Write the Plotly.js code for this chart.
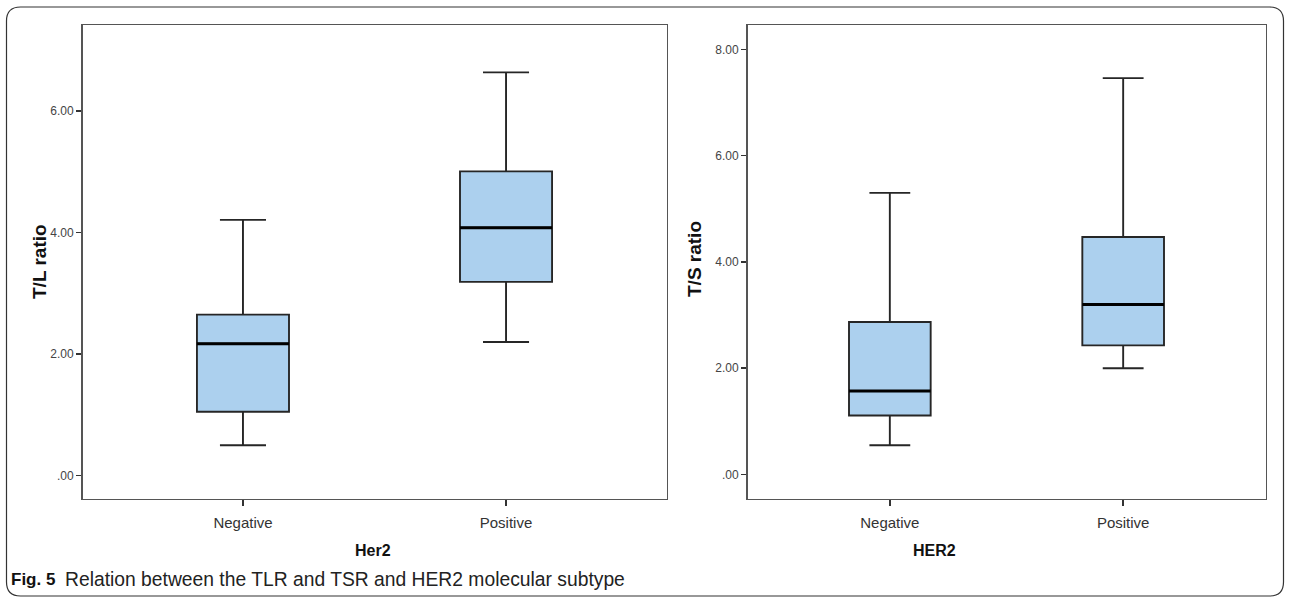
<!DOCTYPE html>
<html>
<head>
<meta charset="utf-8">
<script src="https://cdn.plot.ly/plotly-3.0.1.min.js"></script>
<style>
  html, body { margin: 0; padding: 0; background: #ffffff; }
  #chart { width: 1290px; height: 601px; }
</style>
</head>
<body>
<div id="chart"></div>
<script>
// ---- Data ----
const categories = ['Negative', 'Positive'];

// Left panel: T/L ratio by Her2
const tlrLower  = [0.50, 2.20];
const tlrQ1     = [1.05, 3.19];
const tlrMedian = [2.17, 4.08];
const tlrQ3     = [2.65, 5.01];
const tlrUpper  = [4.21, 6.64];

// Right panel: T/S ratio by HER2
const tsrLower  = [0.55, 2.00];
const tsrQ1     = [1.11, 2.43];
const tsrMedian = [1.57, 3.20];
const tsrQ3     = [2.87, 4.47];
const tsrUpper  = [5.30, 7.46];

const tlrTickVals = [0, 2, 4, 6];
const tlrTickText = ['.00', '2.00', '4.00', '6.00'];
const tsrTickVals = [0, 2, 4, 6, 8];
const tsrTickText = ['.00', '2.00', '4.00', '6.00', '8.00'];

const leftYTitle = 'T/L ratio';
const rightYTitle = 'T/S ratio';
const leftXTitle = 'Her2';
const rightXTitle = 'HER2';
const captionLabel = 'Fig. 5';
const captionText = 'Relation between the TLR and TSR and HER2 molecular subtype';

// ---- Helpers ----
const W = 1290, H = 601;
const px = v => v / W;
const py = v => 1 - v / H;

const FILL = '#acd0ee';
const LINE = '#262626';
const FONT = 'Liberation Sans, Arial, sans-serif';

function boxTrace(xa, ya, lo, q1, med, q3, up) {
  return {
    type: 'box', xaxis: xa, yaxis: ya,
    x: categories, lowerfence: lo, q1: q1, median: med, q3: q3, upperfence: up,
    width: 0.35, whiskerwidth: 0.5,
    fillcolor: FILL, line: { color: LINE, width: 1.9 },
    boxpoints: false, showlegend: false, hoverinfo: 'y'
  };
}
function medianTrace(xa, ya, med) {
  return {
    type: 'box', xaxis: xa, yaxis: ya,
    x: categories, lowerfence: med, q1: med, median: med, q3: med, upperfence: med,
    width: 0.35, whiskerwidth: 0,
    fillcolor: 'rgba(0,0,0,0)', line: { color: '#000000', width: 3 },
    boxpoints: false, showlegend: false, hoverinfo: 'skip'
  };
}

const data = [
  boxTrace('x', 'y', tlrLower, tlrQ1, tlrMedian, tlrQ3, tlrUpper),
  medianTrace('x', 'y', tlrMedian),
  boxTrace('x2', 'y2', tsrLower, tsrQ1, tsrMedian, tsrQ3, tsrUpper),
  medianTrace('x2', 'y2', tsrMedian)
];

function xAxis(domain, anchor) {
  return {
    domain: domain, anchor: anchor, type: 'category',
    range: [-0.61, 1.61],
    showline: true, mirror: true, linecolor: '#555555', linewidth: 1.5,
    ticks: 'outside', ticklen: 6, tickwidth: 1.5, tickcolor: '#333333',
    tickfont: { family: FONT, size: 15, color: '#333333' },
    ticklabelstandoff: 4,
    showgrid: false, zeroline: false, fixedrange: true
  };
}
function yAxis(domain, anchor, range, vals, text) {
  return {
    domain: domain, anchor: anchor, range: range,
    tickmode: 'array', tickvals: vals, ticktext: text,
    showline: true, mirror: true, linecolor: '#555555', linewidth: 1.5,
    ticks: 'outside', ticklen: 5, tickwidth: 1.5, tickcolor: '#333333',
    tickfont: { family: FONT, size: 12, color: '#444444' },
    showgrid: false, zeroline: false, fixedrange: true
  };
}

const yDom = [py(498.5), py(25)];

function ann(text, x, y, opts) {
  return Object.assign({
    text: text, xref: 'paper', yref: 'paper', x: px(x), y: py(y),
    showarrow: false, xanchor: 'center', yanchor: 'middle'
  }, opts || {});
}

const rx = px(14), ry = 14 / H;
const x0 = px(6.5), x1 = px(1283.5), yTop = py(7), yBot = py(596);
const borderPath =
  `M ${x0 + rx},${yTop} L ${x1 - rx},${yTop} Q ${x1},${yTop} ${x1},${yTop - ry} ` +
  `L ${x1},${yBot + ry} Q ${x1},${yBot} ${x1 - rx},${yBot} ` +
  `L ${x0 + rx},${yBot} Q ${x0},${yBot} ${x0},${yBot + ry} ` +
  `L ${x0},${yTop - ry} Q ${x0},${yTop} ${x0 + rx},${yTop} Z`;

const layout = {
  width: W, height: H,
  margin: { l: 0, r: 0, t: 0, b: 0 },
  paper_bgcolor: '#ffffff', plot_bgcolor: '#ffffff',
  boxmode: 'overlay',
  showlegend: false,
  xaxis: xAxis([px(82.5), px(666.5)], 'y'),
  yaxis: yAxis(yDom, 'x', [-0.378, 7.42], tlrTickVals, tlrTickText),
  xaxis2: xAxis([px(747.5), px(1265.5)], 'y2'),
  yaxis2: yAxis(yDom, 'x2', [-0.452, 8.46], tsrTickVals, tsrTickText),
  shapes: [{
    type: 'path', xref: 'paper', yref: 'paper', path: borderPath,
    line: { color: '#333333', width: 1.2 }, fillcolor: 'rgba(0,0,0,0)', layer: 'below'
  }],
  annotations: [
    ann('<b>' + leftYTitle + '</b>', 39, 262, { textangle: -90, font: { family: FONT, size: 19, color: '#111111' } }),
    ann('<b>' + rightYTitle + '</b>', 694, 259, { textangle: -90, font: { family: FONT, size: 19, color: '#111111' } }),
    ann('<b>' + leftXTitle + '</b>', 373, 550, { font: { family: FONT, size: 16, color: '#111111' } }),
    ann('<b>' + rightXTitle + '</b>', 934, 550, { font: { family: FONT, size: 16, color: '#111111' } }),
    ann('<b>' + captionLabel + '</b>', 9, 579, { xanchor: 'left', font: { family: FONT, size: 17, color: '#111111' } }),
    ann(captionText, 63, 579, { xanchor: 'left', font: { family: FONT, size: 19.3, color: '#222222' } })
  ]
};

Plotly.newPlot('chart', data, layout, { staticPlot: true, displayModeBar: false });
</script>
</body>
</html>
